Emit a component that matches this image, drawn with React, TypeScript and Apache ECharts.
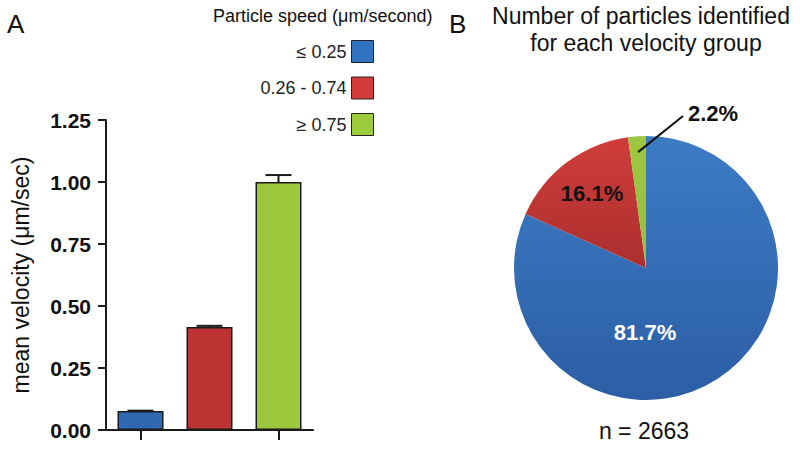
import React, { useEffect, useRef } from "react";
import * as echarts from "echarts";

// ---- data ----
const groups = ["≤ 0.25", "0.26 - 0.74", "≥ 0.75"];
const meanVelocity = [0.077, 0.415, 1.0];
const velocityError = [0.001, 0.005, 0.028];
const particleCounts = [2176, 429, 58];
const yTicks = { min: 0, max: 1.25, interval: 0.25 };

const barColors = ["#2f69b0", "#bd3232", "#9cc83e"];
const legendColors = ["#3173c0", "#d43c3c", "#9ccb3c"];
const pieColorsTop = ["#3c7cc5", "#cf3d3b", "#9dc741"];
const pieColorsBottom = ["#2c5ea4", "#ab2f2e", "#96c03b"];

const FONT = "'Liberation Sans', Arial, Helvetica, sans-serif";

export default function App() {
  const ref = useRef<HTMLDivElement>(null);

  useEffect(() => {
    if (!ref.current) return;
    const chart = echarts.init(ref.current, null, { renderer: "svg" });

    const total = particleCounts.reduce((a, b) => a + b, 0);
    const pct = particleCounts.map((c) => ((c / total) * 100).toFixed(1) + "%");

    const pieCenter = [646, 268];
    const pieRadius = 132;
    // leader line for the smallest slice, computed from its mid angle
    const before = particleCounts.slice(0, 2).reduce((a, b) => a + b, 0);
    const midFrac = (before + particleCounts[2] / 2) / total;
    const ang = midFrac * Math.PI * 2; // clockwise from top
    const lx1 = pieCenter[0] + Math.sin(ang) * pieRadius * 0.88;
    const ly1 = pieCenter[1] - Math.cos(ang) * pieRadius * 0.88;

    const labelPos = [
      { x: 645, y: 332 },
      { x: 592, y: 193 },
      { x: 688, y: 113 },
    ];

    const option: any = {
      animation: false,
      backgroundColor: "#ffffff",
      textStyle: { fontFamily: FONT },
      grid: { left: 106, top: 120, width: 207, height: 310 },
      legend: {
        orient: "vertical",
        align: "right",
        right: 426,
        top: 40,
        padding: 0,
        itemWidth: 22,
        itemHeight: 22,
        itemGap: 13.5,
        icon: "rect",
        selectedMode: false,
        textStyle: { fontSize: 18, color: "#222", fontFamily: FONT },
        data: groups.map((g, i) => ({
          name: g,
          itemStyle: { color: legendColors[i], borderColor: "#222", borderWidth: 1 },
        })),
      },
      xAxis: {
        type: "category",
        data: groups,
        axisLine: { lineStyle: { color: "#1a1a1a", width: 2 } },
        axisTick: { show: true, length: 10, alignWithLabel: true, lineStyle: { color: "#1a1a1a", width: 2 } },
        axisLabel: { show: false },
        splitLine: { show: false },
      },
      yAxis: {
        type: "value",
        min: yTicks.min,
        max: yTicks.max,
        interval: yTicks.interval,
        name: "mean velocity (μm/sec)",
        nameLocation: "middle",
        nameRotate: 90,
        nameGap: 74,
        nameTextStyle: { fontSize: 23, color: "#111", fontFamily: FONT },
        axisLine: { show: true, lineStyle: { color: "#1a1a1a", width: 2 } },
        axisTick: { show: true, length: 8, lineStyle: { color: "#1a1a1a", width: 2 } },
        axisLabel: {
          fontSize: 21,
          fontWeight: "bold",
          color: "#111",
          margin: 15,
          fontFamily: FONT,
          formatter: (v: number) => v.toFixed(2),
        },
        splitLine: { show: false },
      },
      series: [
        {
          type: "bar",
          name: "mean velocity",
          barWidth: 46,
          data: meanVelocity.map((v, i) => ({
            value: v,
            itemStyle: { color: barColors[i], borderColor: "#1a1a1a", borderWidth: 1.5 },
          })),
          z: 2,
        },
        {
          type: "custom",
          name: "error",
          z: 3,
          data: meanVelocity.map((v, i) => [i, v, velocityError[i]]),
          renderItem: (params: any, api: any) => {
            const x = api.value(0);
            const v = api.value(1);
            const e = api.value(2);
            const base = api.coord([x, v]);
            const hi = api.coord([x, v + e]);
            const style = { stroke: "#1a1a1a", lineWidth: 2 };
            return {
              type: "group",
              children: [
                { type: "line", shape: { x1: base[0], y1: base[1], x2: hi[0], y2: hi[1] }, style },
                { type: "line", shape: { x1: hi[0] - 13, y1: hi[1], x2: hi[0] + 13, y2: hi[1] }, style },
              ],
            };
          },
        },
        {
          type: "pie",
          name: "particles",
          center: pieCenter,
          radius: pieRadius,
          startAngle: 90,
          clockwise: true,
          avoidLabelOverlap: false,
          data: particleCounts.map((c, i) => ({
            name: groups[i],
            value: c,
            itemStyle: {
              color: new echarts.graphic.LinearGradient(0, 0, 0, 1, [
                { offset: 0, color: pieColorsTop[i] },
                { offset: 1, color: pieColorsBottom[i] },
              ]),
            },
            label: {
              show: true,
              position: "inside",
              formatter: pct[i],
              fontSize: 22,
              fontWeight: "bold",
              fontFamily: FONT,
              color: i === 0 ? "#ffffff" : "#111111",
            },
            labelLine: { show: false },
          })),
          labelLayout: (p: any) => {
            const lp = labelPos[p.dataIndex];
            return {
              x: lp.x,
              y: lp.y,
              align: p.dataIndex === 2 ? "left" : "center",
              verticalAlign: "middle",
            };
          },
        },
      ],
      graphic: [
        { type: "text", x: 7, y: 24, style: { text: "A", fontSize: 26, fontFamily: FONT, fill: "#111", textAlign: "left", textVerticalAlign: "middle" } },
        { type: "text", x: 449, y: 24, style: { text: "B", fontSize: 26, fontFamily: FONT, fill: "#111", textAlign: "left", textVerticalAlign: "middle" } },
        { type: "text", x: 641, y: 16, style: { text: "Number of particles identified", fontSize: 23, fontFamily: FONT, fill: "#111", textAlign: "center", textVerticalAlign: "middle" } },
        { type: "text", x: 646, y: 43, style: { text: "for each velocity group", fontSize: 23, fontFamily: FONT, fill: "#111", textAlign: "center", textVerticalAlign: "middle" } },
        { type: "text", x: 213, y: 16, style: { text: "Particle speed (μm/second)", fontSize: 18, fontFamily: FONT, fill: "#111", textAlign: "left", textVerticalAlign: "middle" } },
        { type: "text", x: 644, y: 431, style: { text: "n = " + total, fontSize: 23, fontFamily: FONT, fill: "#111", textAlign: "center", textVerticalAlign: "middle" } },
        { type: "line", z: 10, shape: { x1: lx1, y1: ly1, x2: 683, y2: 116 }, style: { stroke: "#111", lineWidth: 2 } },
      ],
    };

    chart.setOption(option);
    return () => chart.dispose();
  }, []);

  return (
    <div
      ref={ref}
      style={{ position: "fixed", left: 0, top: 0, width: 800, height: 449, background: "#fff" }}
    />
  );
}
